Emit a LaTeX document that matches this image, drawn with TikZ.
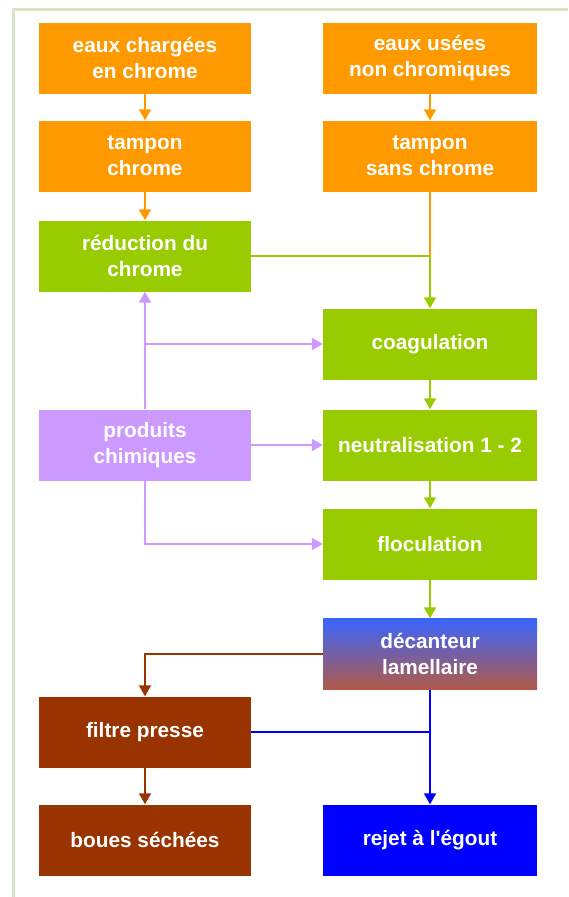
\documentclass[tikz,border=0pt]{standalone}
\usepackage{fontspec}
\setmainfont{Liberation Sans}
\usetikzlibrary{arrows.meta,calc}
\definecolor{corange}{HTML}{FF9900}
\definecolor{cgreen}{HTML}{99CC00}
\definecolor{clilac}{HTML}{CC99FF}
\definecolor{cbrown}{HTML}{993300}
\definecolor{cblue}{HTML}{0000FF}
\definecolor{cframe}{HTML}{D6E6C6}
\definecolor{dtop}{HTML}{3A66FF}
\definecolor{dbot}{HTML}{B05A48}
\begin{document}
\begin{tikzpicture}[x=1pt,y=-1pt,
 box/.style={minimum height=71pt, inner sep=0pt, align=center, text=white,
   font=\fontsize{20.8}{25.5}\selectfont\bfseries},
 lbox/.style={box, minimum width=212pt},
 rbox/.style={box, minimum width=214pt},
 conn/.style={line width=2pt},
 arr/.style={conn,-{Triangle[width=12pt,length=11pt]}}]
\useasboundingbox (0,0) rectangle (568,897);
% frame
\draw[cframe, line width=3pt] (13,897) -- (13,9) -- (568,9);
% nodes
\node[lbox, fill=corange] (ech) at (145,58) {eaux chargées\\en chrome};
\node[rbox, fill=corange] (eun) at (430,58) {eaux usées\\non chromiques};
\node[lbox, fill=corange] (tc) at (145,156) {tampon\\chrome};
\node[rbox, fill=corange] (tsc) at (430,156) {tampon\\sans chrome};
\node[lbox, fill=cgreen] (red) at (145,256) {réduction du\\chrome};
\node[rbox, fill=cgreen] (coag) at (430,344) {coagulation};
\node[lbox, fill=clilac] (prod) at (145,445) {produits\\chimiques};
\node[rbox, fill=cgreen] (neut) at (430,445) {neutralisation 1 - 2};
\node[rbox, fill=cgreen] (floc) at (430,544) {floculation};
\node[rbox, top color=dtop, bottom color=dbot] (dec) at (430,654) {décanteur\\lamellaire};
\node[lbox, fill=cbrown] (fil) at (145,732) {filtre presse};
\node[lbox, fill=cbrown] (bou) at (145,840) {boues séchées};
\node[rbox, fill=cblue] (rej) at (430,840) {rejet à l\textquotesingle égout};
% junction coordinates
\coordinate (j1) at (tsc.south |- red.east);
\coordinate (j2) at (prod.north |- coag.west);
\coordinate (j3) at (prod.south |- floc.west);
\coordinate (j4) at (fil.north |- dec.west);
\coordinate (j5) at (dec.south |- fil.east);
% orange
\draw[arr, corange] (ech) -- (tc);
\draw[arr, corange] (eun) -- (tsc);
\draw[arr, corange] (tc) -- (red);
\draw[conn, corange] (tsc.south) -- (j1);
% green
\draw[conn, cgreen] (red.east) -- (j1);
\draw[arr, cgreen] (j1) -- (coag.north);
\draw[arr, cgreen] (coag) -- (neut);
\draw[arr, cgreen] (neut) -- (floc);
\draw[arr, cgreen] (floc) -- (dec);
% lilac
\draw[arr, clilac] (prod.north) -- (red.south);
\draw[arr, clilac] (j2) -- (coag.west);
\draw[arr, clilac] (prod.east) -- (neut.west);
\draw[arr, clilac] (prod.south) -- (j3) -- (floc.west);
% brown
\draw[arr, cbrown] (dec.west) -- (j4) -- (fil.north);
\draw[arr, cbrown] (fil) -- (bou);
% blue
\draw[conn, cblue] (fil.east) -- (j5);
\draw[arr, cblue] (dec.south) -- (rej.north);
\end{tikzpicture}
\end{document}
